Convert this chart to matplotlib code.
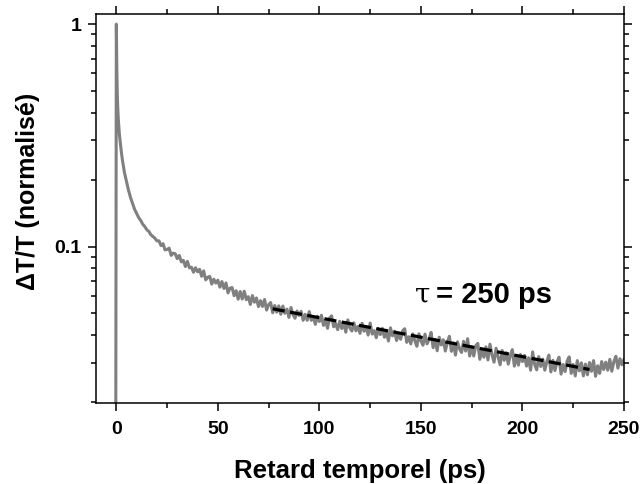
import matplotlib
matplotlib.use("Agg")
import matplotlib.pyplot as plt
from matplotlib.ticker import LogLocator, MultipleLocator, NullFormatter, FixedLocator, FixedFormatter

plt.rcParams['font.family'] = ['Liberation Sans', 'DejaVu Sans']
plt.rcParams['font.weight'] = 'bold'

# rising edge + first picoseconds (ps, normalised dT/T)
t_early = [-10, -0.3, 0, 0.25, 0.5, 0.75, 1, 1.5, 2, 2.5]
s_early = [0.01, 0.01, 1.0, 0.62, 0.47, 0.41, 0.37, 0.32, 0.29, 0.265]

# from 3 ps to 250 ps, one point per ps
t_main = list(range(3, 251))
s_main = [
    0.245, 0.215, 0.196, 0.179, 0.166, 0.156, 0.147, 0.141,           # 3-10
    0.135, 0.131, 0.126, 0.123, 0.119, 0.117, 0.113, 0.111, 0.109, 0.106,  # 11-20
    0.1061, 0.1010, 0.1030, 0.0965, 0.0970, 0.0984, 0.0912, 0.0934, 0.0928, 0.0882,  # 21-30
    0.0912, 0.0853, 0.0867, 0.0813, 0.0858, 0.0802, 0.0808, 0.0766, 0.0803, 0.0770,  # 31-40
    0.0790, 0.0735, 0.0777, 0.0708, 0.0727, 0.0734, 0.0678, 0.0713, 0.0685, 0.0706,  # 41-50
    0.0657, 0.0696, 0.0648, 0.0686, 0.0619, 0.0650, 0.0654, 0.0601, 0.0633, 0.0580,  # 51-60
    0.0628, 0.0581, 0.0630, 0.0577, 0.0595, 0.0549, 0.0602, 0.0562, 0.0587, 0.0537,  # 61-70
    0.0571, 0.0538, 0.0578, 0.0518, 0.0548, 0.0560, 0.0504, 0.0543, 0.0507, 0.0541,  # 71-80
    0.0496, 0.0540, 0.0501, 0.0523, 0.0480, 0.0532, 0.0494, 0.0476, 0.0513, 0.0490,  # 81-90
    0.0511, 0.0466, 0.0496, 0.0466, 0.0510, 0.0466, 0.0481, 0.0447, 0.0486, 0.0460,  # 91-100
    0.0491, 0.0442, 0.0467, 0.0429, 0.0477, 0.0488, 0.0436, 0.0451, 0.0423, 0.0461,  # 101-110
    0.0428, 0.0453, 0.0412, 0.0468, 0.0431, 0.0417, 0.0454, 0.0418, 0.0438, 0.0407,  # 111-120
    0.0452, 0.0416, 0.0436, 0.0400, 0.0453, 0.0404, 0.0419, 0.0389, 0.0428, 0.0402,  # 121-130
    0.0429, 0.0391, 0.0414, 0.0376, 0.0431, 0.0397, 0.0416, 0.0378, 0.0405, 0.0383,  # 131-140
    0.0418, 0.0427, 0.0371, 0.0393, 0.0365, 0.0405, 0.0377, 0.0356, 0.0405, 0.0376,  # 141-150
    0.0360, 0.0404, 0.0365, 0.0383, 0.0411, 0.0351, 0.0383, 0.0340, 0.0391, 0.0361,  # 151-160
    0.0381, 0.0339, 0.0370, 0.0395, 0.0338, 0.0369, 0.0325, 0.0373, 0.0347, 0.0334,  # 161-170
    0.0375, 0.0339, 0.0385, 0.0322, 0.0354, 0.0322, 0.0358, 0.0367, 0.0311, 0.0344,  # 171-180
    0.0318, 0.0354, 0.0309, 0.0364, 0.0326, 0.0302, 0.0349, 0.0319, 0.0294, 0.0341,  # 181-190
    0.0308, 0.0333, 0.0296, 0.0323, 0.0344, 0.0290, 0.0323, 0.0293, 0.0327, 0.0304,  # 191-200
    0.0324, 0.0290, 0.0316, 0.0278, 0.0336, 0.0295, 0.0279, 0.0320, 0.0289, 0.0312,  # 201-210
    0.0278, 0.0304, 0.0325, 0.0273, 0.0308, 0.0277, 0.0303, 0.0318, 0.0267, 0.0295,  # 211-220
    0.0274, 0.0306, 0.0319, 0.0269, 0.0295, 0.0262, 0.0307, 0.0276, 0.0300, 0.0262,  # 221-230
    0.0296, 0.0265, 0.0301, 0.0275, 0.0307, 0.0261, 0.0291, 0.0269, 0.0304, 0.0280,  # 231-240
    0.0302, 0.0278, 0.0311, 0.0275, 0.0304, 0.0321, 0.0284, 0.0313, 0.0294, 0.0311,  # 241-250
]
assert len(t_main) == len(s_main)

t_data = t_early + t_main
s_data = s_early + s_main

# single exponential fit, tau = 250 ps (straight on log axis)
t_fit = [77, 233]
s_fit = [0.0525, 0.0280]

x_ticks = [0, 50, 100, 150, 200, 250]
y_ticks = [0.1, 1]
y_ticklabels = ['0.1', '1']

fig = plt.figure(figsize=(6.41, 4.84), dpi=100)
ax = fig.add_axes([0.1498, 0.1674, 0.8237, 0.8036])

ax.plot(t_data, s_data, color='#808080', lw=2.2, solid_joinstyle='round', zorder=2)
ax.plot(t_fit, s_fit, color='black', lw=2.3, dashes=(3.8, 1.7), zorder=3)

ax.set_yscale('log')
ax.set_xlim(-10, 250)
ax.set_ylim(0.0198, 1.11)

ax.xaxis.set_major_locator(FixedLocator(x_ticks))
ax.xaxis.set_minor_locator(MultipleLocator(25))
ax.yaxis.set_major_locator(FixedLocator(y_ticks))
ax.yaxis.set_major_formatter(FixedFormatter(y_ticklabels))
ax.yaxis.set_minor_locator(LogLocator(subs=[2, 3, 4, 5, 6, 7, 8, 9]))
ax.yaxis.set_minor_formatter(NullFormatter())

ax.tick_params(which='both', direction='out', top=True, right=True, width=1.1,
               labelsize=14)
ax.tick_params(which='major', length=6, pad=4.5)
ax.tick_params(axis='x', which='major', pad=7)
ax.tick_params(which='minor', length=3.3)
for sp in ax.spines.values():
    sp.set_linewidth(1.1)

ax.set_xlabel('Retard temporel (ps)', fontsize=18.5, fontweight='bold', labelpad=15)
ax.set_ylabel('ΔT/T (normalisé)', fontsize=18, fontweight='bold')
ax.yaxis.set_label_coords(-0.106, 0.545)

# annotation
ax.text(147, 0.0559, 'τ', fontsize=20, fontweight='normal', family='DejaVu Serif',
        va='baseline', ha='left')
ax.text(157.5, 0.0559, '= 250 ps', fontsize=21, fontweight='bold', va='baseline', ha='left')

fig.savefig('out.png', dpi=100)
